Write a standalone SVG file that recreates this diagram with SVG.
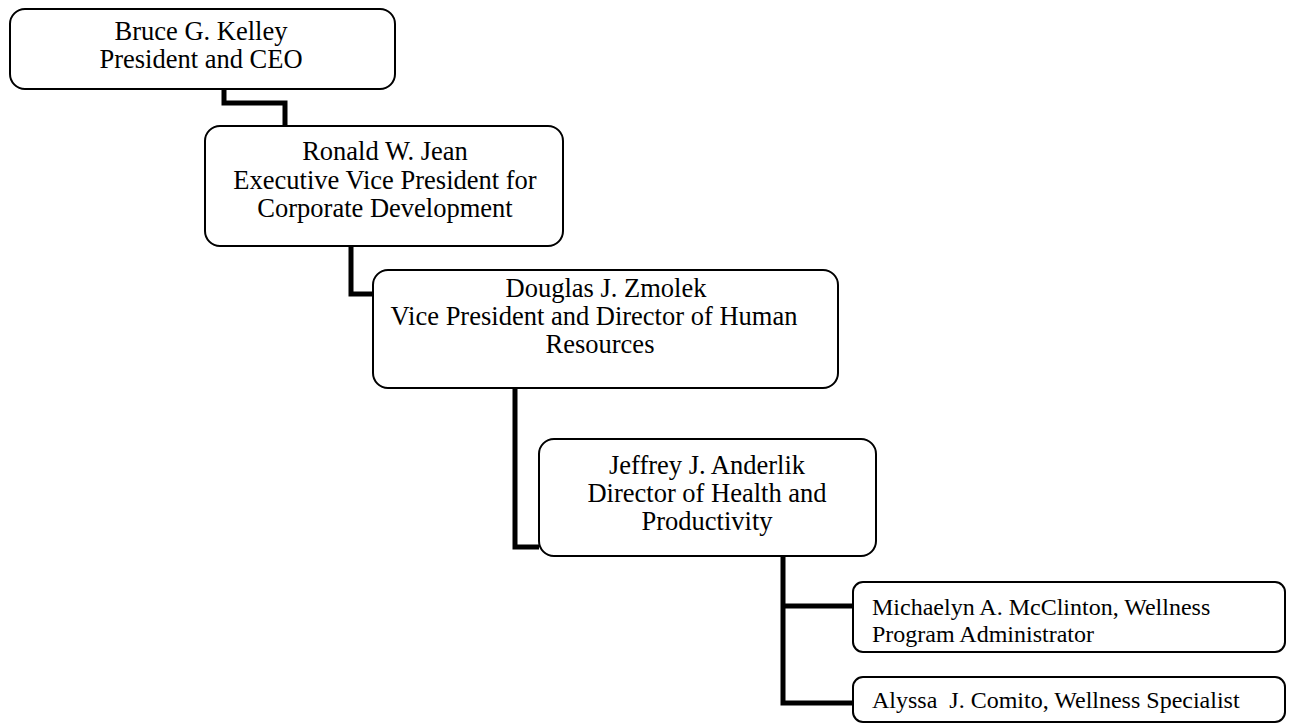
<svg xmlns="http://www.w3.org/2000/svg" width="1293" height="724" viewBox="0 0 1293 724">
<style>
.box{fill:#fff;stroke:#000;stroke-width:2}
.t{font-family:"Liberation Serif","Times New Roman",serif;font-size:26.5px;fill:#000;text-anchor:middle}
.s{font-family:"Liberation Serif","Times New Roman",serif;font-size:24px;fill:#000;white-space:pre}
.c{fill:none;stroke:#000;stroke-width:5;stroke-linejoin:miter}
</style>
<rect width="1293" height="724" fill="#fff"/>
<g id="connectors">
<path class="c" d="M224,89 V103 H285 V126"/>
<path class="c" d="M351,246 V294 H373"/>
<path class="c" d="M515,388 V547 H539"/>
<path class="c" d="M783,556 V703 H853 M783,606 H853"/>
</g>
<g id="n1">
<rect class="box" x="10" y="9" width="385" height="80" rx="15"/>
<text class="t" x="201" y="40">Bruce G. Kelley</text>
<text class="t" x="201" y="68">President and CEO</text>
</g>
<g id="n2">
<rect class="box" x="205" y="126" width="358" height="120" rx="15"/>
<text class="t" x="385" y="160">Ronald W. Jean</text>
<text class="t" x="385" y="189">Executive Vice President for</text>
<text class="t" x="385" y="217">Corporate Development</text>
</g>
<g id="n3">
<rect class="box" x="373" y="270" width="465" height="118" rx="15"/>
<text class="t" x="606" y="297">Douglas J. Zmolek</text>
<text class="t" x="594" y="325">Vice President and Director of Human</text>
<text class="t" x="600" y="353">Resources</text>
</g>
<g id="n4">
<rect class="box" x="539" y="439" width="337" height="117" rx="15"/>
<text class="t" x="707" y="474">Jeffrey J. Anderlik</text>
<text class="t" x="707" y="502">Director of Health and</text>
<text class="t" x="707" y="530">Productivity</text>
</g>
<g id="n5">
<rect class="box" x="853" y="582" width="432" height="70" rx="10"/>
<text class="s" x="872" y="615">Michaelyn A. McClinton, Wellness</text>
<text class="s" x="872" y="642">Program Administrator</text>
</g>
<g id="n6">
<rect class="box" x="853" y="677" width="432" height="45" rx="10"/>
<text class="s" x="872" y="708" xml:space="preserve">Alyssa  J. Comito, Wellness Specialist</text>
</g>
</svg>
